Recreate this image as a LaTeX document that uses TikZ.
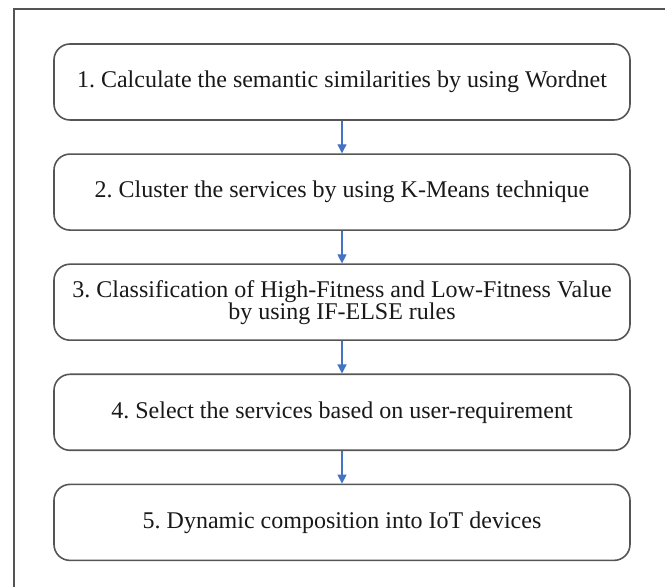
\documentclass[tikz,border=0pt]{standalone}
\usepackage{fontspec}
\setmainfont{Liberation Serif}
\usetikzlibrary{positioning,arrows.meta}
\definecolor{linkblue}{HTML}{4472C4}
\definecolor{framegray}{HTML}{555555}
\frenchspacing
\tikzset{
  stepbox/.style={draw=framegray, line width=0.8pt, rounded corners=8pt, minimum width=288pt,
    minimum height=38pt, align=center, font=\fontsize{12}{11}\selectfont, text=black!90},
  link/.style={draw=linkblue, line width=0.6pt, -{Triangle[width=4.5pt,length=4.5pt]}}
}
\begin{document}
\begin{tikzpicture}[x=0.5pt,y=-0.5pt,node distance=16.25pt]
  \useasboundingbox (0,0) rectangle (665,587);
  \begin{scope}
    \clip (0,0) rectangle (665,587);
    \draw[framegray, line width=0.6pt] (14,700) -- (14,9) -- (700,9);
  \end{scope}
  \node[stepbox] (calc) at (342,82) {1. Calculate the semantic similarities by using Wordnet};
  \node[stepbox, below=of calc] (cluster) {2. Cluster the services by using K-Means technique};
  \node[stepbox, below=of cluster] (classify) {3. Classification of High-Fitness and Low-Fitness Value\\ by using IF-ELSE rules};
  \node[stepbox, below=of classify] (select) {4. Select the services based on user-requirement};
  \node[stepbox, below=of select] (compose) {5. Dynamic composition into IoT devices};
  \draw[link] (calc) -- (cluster);
  \draw[link] (cluster) -- (classify);
  \draw[link] (classify) -- (select);
  \draw[link] (select) -- (compose);
\end{tikzpicture}
\end{document}
